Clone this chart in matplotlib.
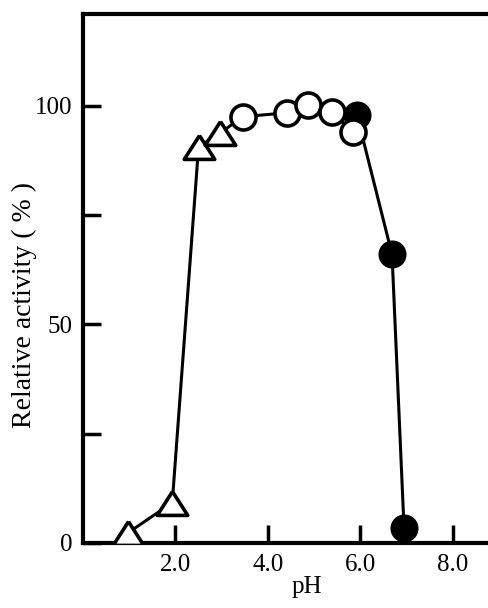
import numpy as np
import matplotlib.pyplot as plt
from matplotlib.ticker import FixedLocator

# pH profile
ph_tri = [0.97, 1.93, 2.5, 2.97]
act_tri = [2.3, 9.2, 90.6, 93.8]

ph_open = [3.46, 4.42, 4.88, 5.38, 5.85]
act_open = [97.5, 98.4, 100.2, 98.6, 94.0]

ph_closed = [5.93, 6.69, 6.95]
act_closed = [97.9, 66.0, 3.4]

x_ticks = [2.0, 4.0, 6.0, 8.0]
x_ticklabels = ['2.0', '4.0', '6.0', '8.0']
y_ticks = [0, 50, 100]
y_minor = [25, 75]

plt.rcParams['font.family'] = 'serif'
plt.rcParams['font.serif'] = ['Liberation Serif', 'Times New Roman', 'DejaVu Serif']

fig = plt.figure(figsize=(4.89, 6.08), dpi=100)
ax = fig.add_axes([0.170, 0.107, 0.830, 0.870])

lw = 2.2
ms = 18
# a slightly flattened open triangle, like the hand drawn ones
tri = [(0, 0.78), (-1, -0.78), (1, -0.78), (0, 0.78)]

# line through triangles and open circles (one continuous trace)
ax.plot(ph_tri + [ph_open[0]], act_tri + [act_open[0]], color='black', lw=lw, zorder=2)
ax.plot(ph_open, act_open, color='black', lw=lw, zorder=2)
ax.plot(ph_closed, act_closed, color='black', lw=lw, zorder=2)

ax.plot(ph_closed, act_closed, 'o', ms=ms, mfc='black', mec='black', mew=2.2, zorder=3)
ax.plot(ph_tri, act_tri, marker=tri, ls='none', ms=22, mfc='white', mec='black', mew=2.6, zorder=4)
ax.plot(ph_open, act_open, 'o', ms=ms, mfc='white', mec='black', mew=2.6, zorder=4)

ax.set_xlim(0, 8.79)
ax.set_ylim(0, 121)

ax.spines['right'].set_visible(False)
for s in ['left', 'bottom', 'top']:
    ax.spines[s].set_linewidth(3)

ax.set_xticks(x_ticks)
ax.set_xticklabels(x_ticklabels)
ax.set_yticks(y_ticks)
ax.yaxis.set_minor_locator(FixedLocator(y_minor))

ax.tick_params(axis='both', which='both', direction='in', width=2.5, length=13,
               labelsize=18, pad=8)
ax.tick_params(axis='x', which='both', top=False)
ax.tick_params(axis='y', which='both', right=False)

ax.set_xlabel('pH', fontsize=18)
ax.xaxis.set_label_coords(0.552, -0.062)
ax.set_ylabel('Relative activity ( % )', fontsize=20)
ax.yaxis.set_label_coords(-0.113, 0.45)

fig.savefig('out.png', dpi=100)
